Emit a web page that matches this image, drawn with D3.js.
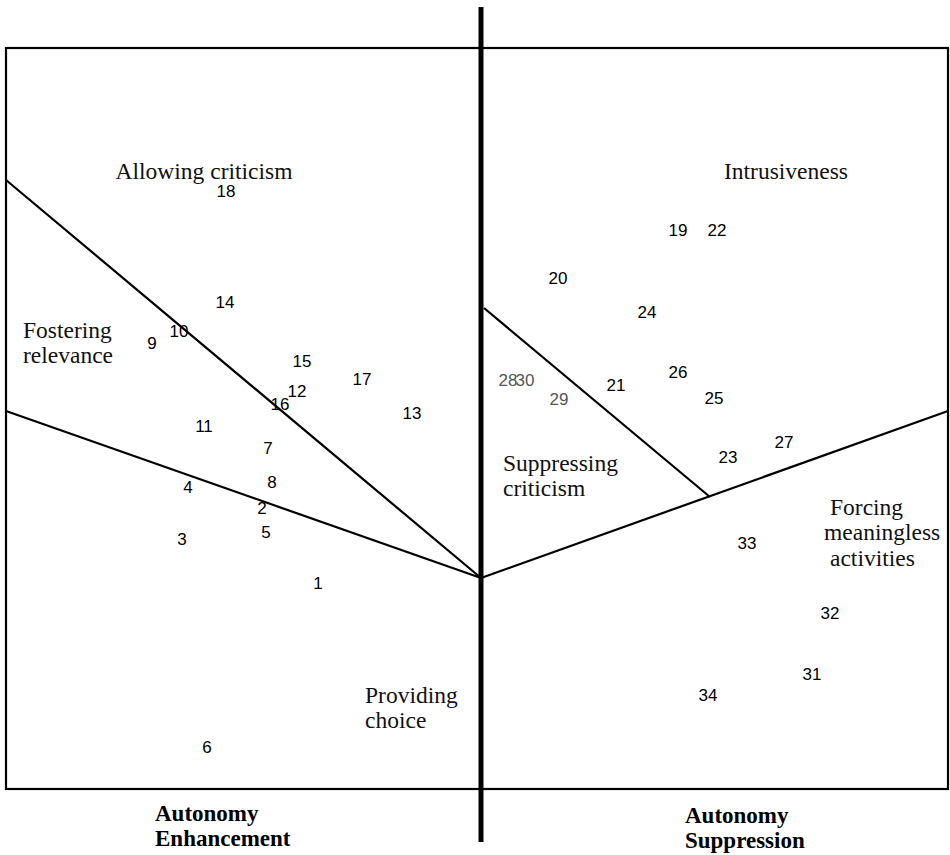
<!DOCTYPE html>
<html>
<head>
<meta charset="utf-8">
<script src="https://cdn.jsdelivr.net/npm/d3@7/dist/d3.min.js"></script>
<style>
  html, body { margin: 0; padding: 0; background: #fff; }
  svg { display: block; }
</style>
</head>
<body>
<svg id="chart" width="950" height="855"></svg>
<script>
// ---- Data (MDS configuration, arbitrary units) ----
const itemIds = [1,2,3,4,5,6,7,8,9,10,11,12,13,14,15,16,17,18,
                 19,20,21,22,23,24,25,26,27,28,29,30,31,32,33,34];
const dim1 = [-1.63,-2.19,-2.99,-2.93,-2.15,-2.74,-2.13,-2.09,-3.29,-3.02,-2.77,-1.84,-0.69,-2.56,-1.79,-2.01,-1.19,-2.55,
               1.97, 0.77, 1.35, 2.36, 2.47, 1.66, 2.33, 1.97, 3.03, 0.27, 0.78, 0.44, 3.31, 3.49, 2.66, 2.27];
const dim2 = [-0.05, 0.70, 0.39, 0.91, 0.46,-1.69, 1.30, 0.96, 2.35, 2.47, 1.52, 1.87, 1.65, 2.76, 2.17, 1.74, 1.99, 3.87,
               3.48, 3.00, 1.93, 3.48, 1.21, 2.66, 1.80, 2.06, 1.36, 1.98, 1.79, 1.98,-0.96,-0.35, 0.35,-1.17];
const faintItems = [28, 29, 30];

// Region boundaries (from the origin / apex to the edge)
const boundaryX1 = [-4.75, -4.75, 4.67, 0.03];
const boundaryY1 = [ 3.98,  1.67, 1.67, 2.70];
const boundaryX2 = [ 0.00,  0.00, 0.00, 2.29];
const boundaryY2 = [ 0.00,  0.00, 0.00, 0.81];

// Region labels
const regionLines = [
  ["Allowing criticism"], ["Intrusiveness"], ["Fostering", "relevance"],
  ["Suppressing", "criticism"], ["Providing", "choice"],
  ["Forcing", "meaningless", "activities"]
];
const regionX = [-2.77, 3.05, -4.58, 0.22, -1.16, 3.49];
const regionY = [ 4.07, 4.07,  2.48, 1.15, -1.17, 0.71];
const regionAnchor = ["middle", "middle", "start", "start", "start", "start"];
const regionLineShift = [[0], [0], [0, 0], [0, 0], [0, 0], [0, -0.06, 0]];

// Pole labels
const poleLines = [["Autonomy", "Enhancement"], ["Autonomy", "Suppression"]];
const poleX = [-3.26, 2.04];
const poleY = [-2.35, -2.37];

// Plot extent
const xDomain = [-4.75, 4.67];
const yDomain = [-2.11, 5.30];
const axisTop = 5.71, axisBottom = -2.64;

// ---- Drawing ----
const svg = d3.select("#chart");
const x = d3.scaleLinear().domain(xDomain).range([6, 948]);
const y = d3.scaleLinear().domain(yDomain).range([789, 48]);
const serif = "'Liberation Serif', 'DejaVu Serif', serif";

// frame
svg.append("rect")
  .attr("x", x(xDomain[0])).attr("y", y(yDomain[1]))
  .attr("width", x(xDomain[1]) - x(xDomain[0]))
  .attr("height", y(yDomain[0]) - y(yDomain[1]))
  .attr("fill", "none").attr("stroke", "#000").attr("stroke-width", 2.2);

// boundaries
svg.selectAll("line.boundary").data(boundaryX1).join("line")
  .attr("class", "boundary")
  .attr("x1", (d, i) => x(boundaryX1[i])).attr("y1", (d, i) => y(boundaryY1[i]))
  .attr("x2", (d, i) => x(boundaryX2[i])).attr("y2", (d, i) => y(boundaryY2[i]))
  .attr("stroke", "#000").attr("stroke-width", 2.2);

// central vertical axis
svg.append("line")
  .attr("x1", x(0)).attr("x2", x(0))
  .attr("y1", y(axisTop)).attr("y2", y(axisBottom))
  .attr("stroke", "#000").attr("stroke-width", 5);

// items
const items = itemIds.map((id, i) => ({id, a: dim1[i], b: dim2[i]}));
svg.selectAll("text.item").data(items).join("text")
  .attr("class", "item")
  .attr("x", d => x(d.a)).attr("y", d => y(d.b))
  .attr("dy", "0.36em")
  .attr("text-anchor", "middle")
  .attr("font-family", "'Liberation Sans', Arial, sans-serif")
  .attr("font-size", 17)
  .attr("fill", d => faintItems.includes(d.id) ? "#555" : "#000")
  .text(d => d.id);

// region labels
regionLines.forEach((lines, i) => {
  const t = svg.append("text")
    .attr("font-family", serif)
    .attr("font-size", 23.5)
    .attr("fill", "#111")
    .attr("text-anchor", regionAnchor[i]);
  lines.forEach((ln, j) => {
    t.append("tspan")
      .attr("x", x(regionX[i] + regionLineShift[i][j]))
      .attr("y", y(regionY[i]) + j * 25.5 + 7.5)
      .text(ln);
  });
});

// pole labels
poleLines.forEach((lines, i) => {
  const t = svg.append("text")
    .attr("font-family", serif)
    .attr("font-size", 23)
    .attr("font-weight", 700)
    .attr("fill", "#000");
  lines.forEach((ln, j) => {
    t.append("tspan")
      .attr("x", x(poleX[i]))
      .attr("y", y(poleY[i]) + j * 25.5 + 7.5)
      .text(ln);
  });
});
</script>
</body>
</html>
